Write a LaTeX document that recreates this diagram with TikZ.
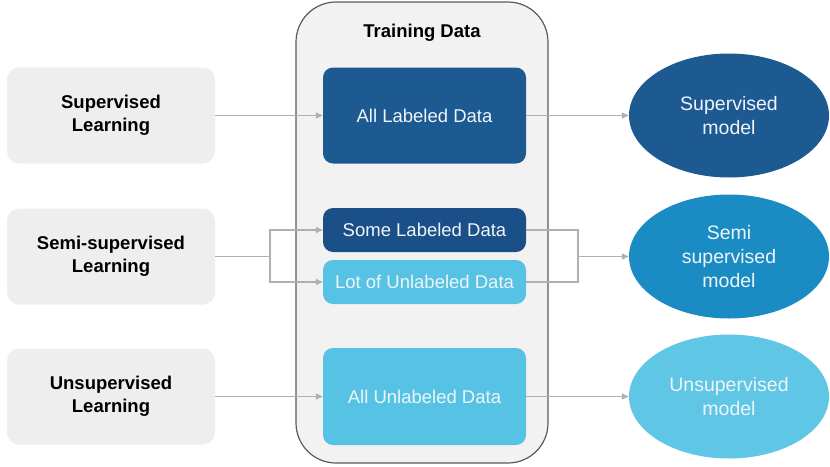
\documentclass[tikz,border=0pt]{standalone}
\usepackage{fontspec}
\setmainfont{Liberation Sans}
\usetikzlibrary{arrows.meta,shapes.geometric}

\definecolor{learngray}{HTML}{EEEEEE}
\definecolor{panelgray}{HTML}{F2F2F2}
\definecolor{paneledge}{HTML}{5A5A5A}
\definecolor{deepblue}{HTML}{1E5A92}
\definecolor{navyblue}{HTML}{1B4F87}
\definecolor{oceanblue}{HTML}{1B8CC3}
\definecolor{skyblue}{HTML}{57C3E4}
\definecolor{linkgray}{HTML}{B0B0B0}
\definecolor{paletext}{HTML}{EEF5FA}

\begin{document}
\begin{tikzpicture}[x=1pt,y=-1pt,
  learnbox/.style={rectangle,rounded corners=12pt,fill=learngray,minimum width=208pt,minimum height=96pt,align=center,font=\fontsize{18.5}{23}\selectfont\bfseries},
  databox/.style={rectangle,rounded corners=10pt,minimum width=203pt,text=paletext,font=\fontsize{18.5}{23}\selectfont},
  modelnode/.style={ellipse,inner sep=0pt,minimum width=200pt,minimum height=124pt,text=paletext,align=center,font=\fontsize{19.5}{24}\selectfont},
  plainline/.style={draw=linkgray,line width=1.3pt},
  linkline/.style={plainline,-{Triangle[length=7pt,width=6pt]}}]
\useasboundingbox (0,0) rectangle (830,466);

\node (panel) at (422,232.5) [rectangle,rounded corners=40pt,draw=paneledge,line width=1.2pt,fill=panelgray,minimum width=252pt,minimum height=461pt] {};
\node (title) at (422,33) [font=\fontsize{18.5}{23}\selectfont\bfseries] {Training Data};

\node (suplearn) at (111,115.5) [learnbox] {Supervised\\Learning};
\node (semilearn) at (111,256.5) [learnbox] {Semi-supervised\\Learning};
\node (unsuplearn) at (111,396.5) [learnbox] {Unsupervised\\Learning};

\node (alllab) at (424.5,115.5) [databox,fill=deepblue,minimum height=96pt] {All Labeled Data};
\node (somelab) at (424.5,230) [databox,fill=navyblue,minimum height=44pt] {Some Labeled Data};
\node (lotunlab) at (424.5,282) [databox,fill=skyblue,minimum height=44pt] {Lot of Unlabeled Data};
\node (allunlab) at (424.5,396.5) [databox,fill=skyblue,minimum height=97pt] {All Unlabeled Data};

\node (supmodel) at (729,115.5) [modelnode,fill=deepblue] {Supervised\\model};
\node (semimodel) at (729,256.5) [modelnode,fill=oceanblue] {Semi\\supervised\\model};
\node (unsupmodel) at (729,396.5) [modelnode,fill=skyblue!95!white] {Unsupervised\\model};

\coordinate (lsplit) at (270,256.5);
\coordinate (rjoin) at (578,256.5);

\draw[linkline] (suplearn) -- (alllab);
\draw[linkline] (alllab) -- (supmodel);
\draw[plainline] (semilearn) -- (lsplit);
\draw[linkline] (lsplit) |- (somelab);
\draw[linkline] (lsplit) |- (lotunlab);
\draw[plainline] (somelab) -| (rjoin);
\draw[plainline] (lotunlab) -| (rjoin);
\draw[linkline] (rjoin) -- (semimodel);
\draw[linkline] (unsuplearn) -- (allunlab);
\draw[linkline] (allunlab) -- (unsupmodel);
\end{tikzpicture}
\end{document}
